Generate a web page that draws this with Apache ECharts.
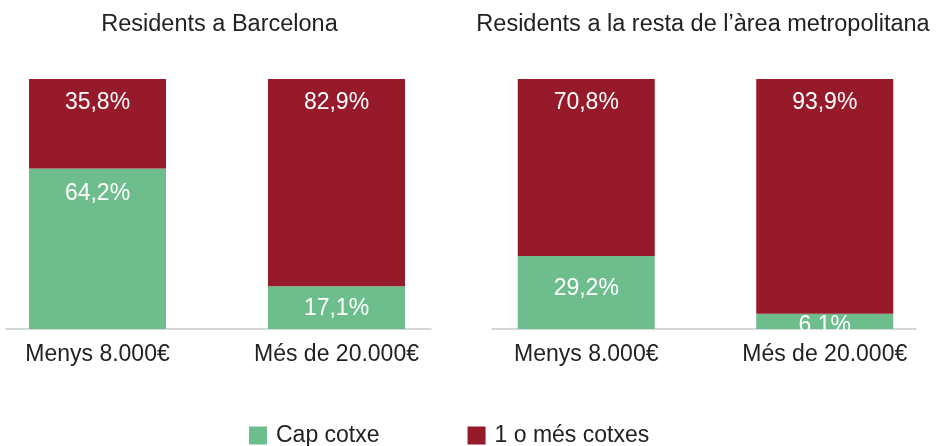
<!DOCTYPE html>
<html><head><meta charset="utf-8">
<script src="https://cdn.jsdelivr.net/npm/echarts@6/dist/echarts.min.js"></script>
<style>html,body{margin:0;padding:0;background:#fff}#c{width:941px;height:446px}</style>
</head><body><div id="c"></div>
<script>
const categories = ['Menys 8.000€', 'Més de 20.000€'];
const panelTitles = ['Residents a Barcelona', 'Residents a la resta de l’àrea metropolitana'];
const seriesNames = ['Cap cotxe', '1 o més cotxes'];
const bcnCap = [64.2, 17.1];
const bcnCotxes = [35.8, 82.9];
const restaCap = [29.2, 6.1];
const restaCotxes = [70.8, 93.9];
const bcnCapLabels = ['64,2%', '17,1%'];
const bcnCotxesLabels = ['35,8%', '82,9%'];
const restaCapLabels = ['29,2%', '6.1%'];
const restaCotxesLabels = ['70,8%', '93,9%'];

const GREEN = '#6EBD8D', RED = '#971A2A';
const FONT = '"Liberation Sans", Arial, Helvetica, sans-serif';
const FS = 23;

function mk(name, values, labels, color, grid, stack, dists) {
  return {
    name: name, type: 'bar', stack: stack, xAxisIndex: grid, yAxisIndex: grid,
    barWidth: 137, itemStyle: {color: color},
    data: values.map((v, i) => ({value: v, label: {distance: dists[i]}})),
    label: {show: true, position: 'insideTop', color: '#fff', fontFamily: FONT, fontSize: FS,
      formatter: p => labels[p.dataIndex]},
    emphasis: {disabled: true}, animation: false
  };
}

const catAxis = g => ({type: 'category', gridIndex: g, data: categories,
  axisLine: {show: false}, axisTick: {show: false},
  axisLabel: {color: '#222', fontFamily: FONT, fontSize: FS, margin: 14}});
const valAxis = g => ({type: 'value', gridIndex: g, min: 0, max: 100, show: false});
const baseAxis = g => ({type: 'value', gridIndex: g, min: 0, max: 1,
  axisLine: {show: true, lineStyle: {color: '#c7cccf', width: 1.5}},
  axisTick: {show: false}, axisLabel: {show: false}, splitLine: {show: false}});

const chart = echarts.init(document.getElementById('c'), null, {renderer: 'canvas'});
chart.setOption({
  animation: false,
  grid: [
    {left: -22, width: 478, top: 79, height: 250, outerBoundsMode: 'none', containLabel: false},
    {left: 467, width: 477, top: 79, height: 250, outerBoundsMode: 'none', containLabel: false},
    {left: 6, width: 425, top: 79, height: 250, outerBoundsMode: 'none'},
    {left: 492, width: 424, top: 79, height: 250, outerBoundsMode: 'none'}
  ],
  xAxis: [catAxis(0), catAxis(1), baseAxis(2), baseAxis(3)],
  yAxis: [valAxis(0), valAxis(1), {gridIndex: 2, show: false}, {gridIndex: 3, show: false}],
  legend: {data: seriesNames, left: 249, top: 424, padding: 0, itemWidth: 18, itemHeight: 18, itemGap: 88,
    icon: 'rect', textStyle: {color: '#222', fontFamily: FONT, fontSize: FS, padding: [0, 0, 0, 4]},
    selectedMode: false},
  graphic: [
    {type: 'text', x: 219.5, y: 13, style: {text: panelTitles[0], textAlign: 'center', fill: '#222', font: '23.5px ' + FONT}},
    {type: 'text', x: 703, y: 13, style: {text: panelTitles[1], textAlign: 'center', fill: '#222', font: '23.5px ' + FONT}}
  ],
  series: [
    mk(seriesNames[0], bcnCap, bcnCapLabels, GREEN, 0, 'a', [14, 11]),
    mk(seriesNames[1], bcnCotxes, bcnCotxesLabels, RED, 0, 'a', [12, 12]),
    mk(seriesNames[0], restaCap, restaCapLabels, GREEN, 1, 'b', [21, 0]),
    mk(seriesNames[1], restaCotxes, restaCotxesLabels, RED, 1, 'b', [12, 12])
  ]
});
</script></body></html>
